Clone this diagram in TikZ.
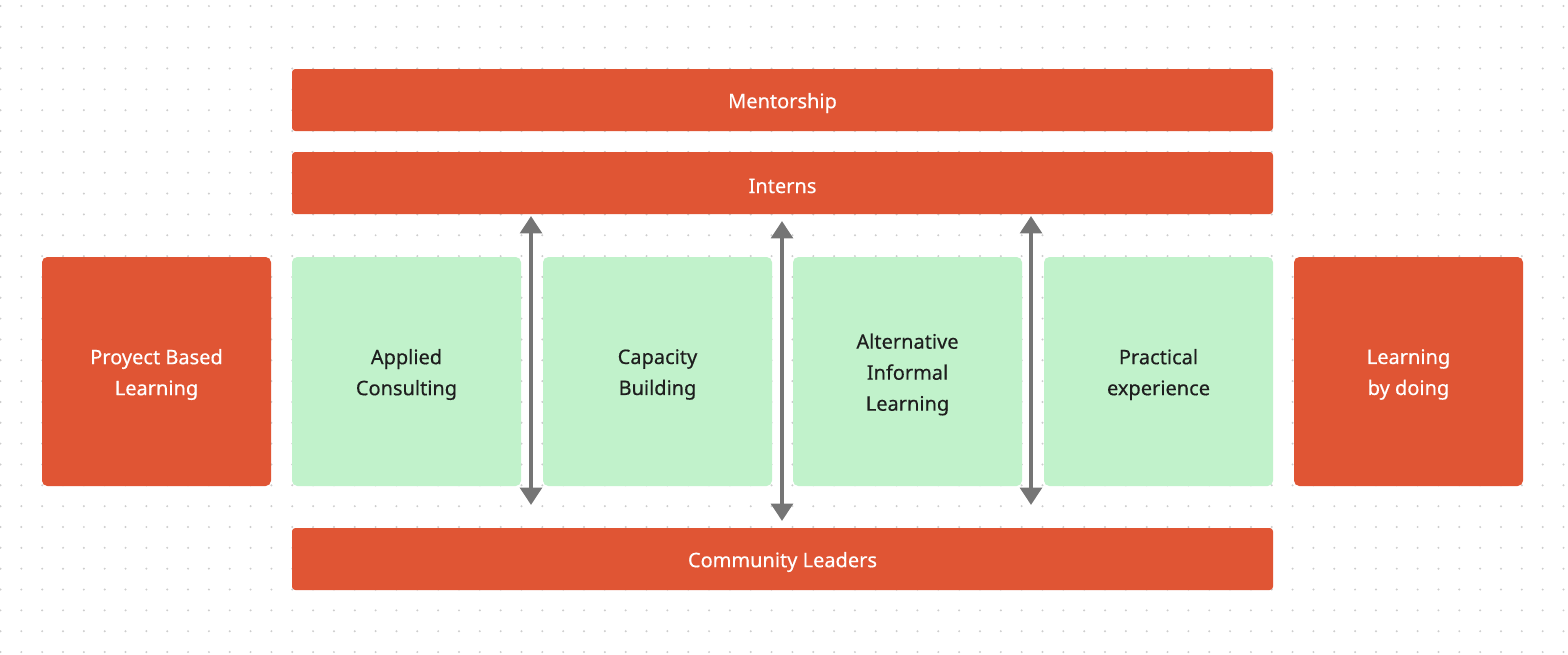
\documentclass[tikz,border=0pt]{standalone}
\usepackage{fontspec}
\setmainfont{Noto Sans}
\newfontfamily\medfont{Noto Sans}[FakeBold=0.35]
\usetikzlibrary{arrows.meta}
\definecolor{bred}{HTML}{E05534}
\definecolor{bgreen}{HTML}{C1F2CB}
\definecolor{dotc}{HTML}{CDCDCD}
\definecolor{arr}{HTML}{757575}
\definecolor{txt}{HTML}{1E1E1E}
\tikzset{
  lbl/.style={yshift=-2.25pt, align=center, inner sep=0pt, font=\medfont\fontsize{15pt}{23.25pt}\selectfont},
  redbar/.style={fill=bred, rounded corners=2.5pt, minimum width=735.75pt, minimum height=46.5pt, inner sep=0pt},
  redsq/.style={fill=bred, rounded corners=4pt, minimum width=171.75pt, minimum height=171.75pt, inner sep=0pt},
  greensq/.style={fill=bgreen, rounded corners=4pt, minimum width=171.75pt, minimum height=171.75pt, inner sep=0pt},
  wlbl/.style={lbl, text=white},
  dlbl/.style={lbl, text=txt},
  dblarrow/.style={draw=arr, line width=3.4pt, {Triangle[width=16pt,length=13pt]}-{Triangle[width=16pt,length=13pt]}}
}
\begin{document}
\begin{tikzpicture}[x=0.75pt,y=-0.75pt]
\useasboundingbox[fill=white] (0,0) rectangle (1568,654);
% dot grid
\foreach \i in {0,...,75}{
  \foreach \j in {0,...,31}{
    \fill[dotc] ({0.5+20.84*\i},{6+20.84*\j}) circle[radius=1.1];
  }
}
\node[redbar, label={[wlbl]center:Mentorship}] (mentor) at (782.5,100) {};
\node[redbar, label={[wlbl]center:Interns}] (interns) at (782.5,183) {};
\node[redbar, label={[wlbl]center:Community Leaders}] (community) at (782.5,559) {};
\node[redsq, label={[wlbl]center:{Proyect Based\\Learning}}] (pbl) at (156.5,371.5) {};
\node[greensq, label={[dlbl]center:{Applied\\Consulting}}] (applied) at (406.5,371.5) {};
\node[greensq, label={[dlbl]center:{Capacity\\Building}}] (capacity) at (657.5,371.5) {};
\node[greensq, label={[dlbl]center:{Alternative\\Informal\\Learning}}] (alt) at (907.5,371.5) {};
\node[greensq, label={[dlbl]center:{Practical\\experience}}] (practical) at (1158.5,371.5) {};
\node[redsq, label={[wlbl]center:{Learning\\by doing}}] (lbd) at (1408.5,371.5) {};
\coordinate (a1t) at (531,216);
\coordinate (a1b) at (531,505);
\coordinate (a2t) at (782,221);
\coordinate (a2b) at (782,521);
\coordinate (a3t) at (1031,216);
\coordinate (a3b) at (1031,505);
\draw[dblarrow] (a1t) -- (a1b);
\draw[dblarrow] (a2t) -- (a2b);
\draw[dblarrow] (a3t) -- (a3b);
\end{tikzpicture}
\end{document}
